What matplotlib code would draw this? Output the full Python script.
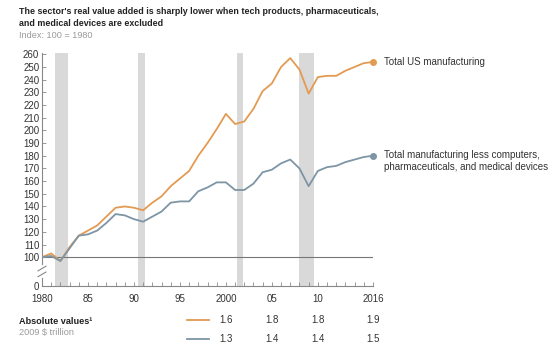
import matplotlib
matplotlib.use('Agg')
import matplotlib.pyplot as plt
import matplotlib.transforms as mtransforms

plt.rcParams['font.family'] = ['Liberation Sans', 'DejaVu Sans']

years = list(range(1980, 2017))
total_us = [100, 103, 97, 108, 117, 121, 125, 132, 139, 140, 139, 137, 143, 148,
            156, 162, 168, 180, 190, 201, 213, 205, 207, 217, 231, 237, 250, 257,
            248, 229, 242, 243, 243, 247, 250, 253, 254]
less_tech = [100, 101, 97, 107, 117, 118, 121, 127, 134, 133, 130, 128, 132, 136,
             143, 144, 144, 152, 155, 159, 159, 153, 153, 158, 167, 169, 174, 177,
             170, 156, 168, 171, 172, 175, 177, 179, 180]
recessions = [(1981.4, 1982.8), (1990.4, 1991.2), (2001.2, 2001.9), (2008.0, 2009.6)]
label_total = 'Total US manufacturing'
label_less = 'Total manufacturing less computers,\npharmaceuticals, and medical devices'
xtick_pos = [1980, 1985, 1990, 1995, 2000, 2005, 2010, 2016]
xtick_lab = ['1980', '85', '90', '95', '2000', '05', '10', '2016']
table_years = [2000, 2005, 2010, 2016]
abs_total = ['1.6', '1.8', '1.8', '1.9']
abs_less = ['1.3', '1.4', '1.4', '1.5']

orange = '#e39a52'
blue = '#7d95a5'
txt = '#333333'
grey = '#9a9a9a'

fig = plt.figure(figsize=(5.5, 3.52), dpi=100)
ax = fig.add_axes([42 / 550, 66 / 352, 331 / 550, 233 / 352])

ybot = 77.3  # pixel position of the "0" label (broken axis)
for a, b in recessions:
    ax.axvspan(a, b, color='#d9d9d9', lw=0, zorder=0)
ax.axhline(100, color='#777777', lw=0.8, zorder=1)
ax.plot(years, total_us, color=orange, lw=1.3, zorder=3)
ax.plot(years, less_tech, color=blue, lw=1.3, zorder=3)
ax.plot(years[-1], total_us[-1], 'o', color=orange, ms=4, zorder=4, clip_on=False)
ax.plot(years[-1], less_tech[-1], 'o', color=blue, ms=4, zorder=4, clip_on=False)

ax.annotate(label_total, (years[-1], total_us[-1]), xytext=(8, 0),
            textcoords='offset points', va='center', ha='left', fontsize=7, color=txt)
ax.annotate(label_less, (years[-1], less_tech[-1]), xytext=(8, -4),
            textcoords='offset points', va='center', ha='left', fontsize=7,
            color=txt, linespacing=1.25)

ax.set_xlim(1980, 2016)
ax.set_ylim(ybot, 261)
for s in ['top', 'right']:
    ax.spines[s].set_visible(False)
ax.spines['left'].set_color('#888888')
ax.spines['bottom'].set_color('#888888')
ax.spines['left'].set_linewidth(0.8)
ax.spines['bottom'].set_linewidth(0.8)

ax.set_yticks(list(range(100, 261, 10)) + [ybot])
ax.set_yticklabels([str(v) for v in range(100, 261, 10)] + ['0'])
ax.set_xticks(xtick_pos)
ax.set_xticklabels(xtick_lab)
ax.set_xticks(years, minor=True)
ax.tick_params(axis='both', direction='in', labelsize=7, colors='#888888',
               labelcolor=txt, length=3, width=0.6)
ax.tick_params(axis='x', which='minor', direction='in', length=3, width=0.6,
               colors='#888888')
ax.tick_params(axis='x', pad=6)
ax.tick_params(axis='y', pad=2)

# axis break marks
ax.plot([0, 0], [0.045, 0.085], transform=ax.transAxes, color='white', lw=2,
        clip_on=False, zorder=5)
for yb in (0.05, 0.075):
    ax.plot([-0.012, 0.012], [yb - 0.01, yb + 0.01], transform=ax.transAxes,
            color='#888888', lw=0.8, clip_on=False, zorder=6)

fig.text(19 / 550, 1 - 12 / 352, "The sector's real value added is sharply lower when tech products, pharmaceuticals,",
         fontsize=6.4, fontweight='bold', color='#222222', va='center')
fig.text(19 / 550, 1 - 24 / 352, 'and medical devices are excluded',
         fontsize=6.4, fontweight='bold', color='#222222', va='center')
fig.text(19 / 550, 1 - 35 / 352, 'Index: 100 = 1980', fontsize=6.6, color=grey, va='center')

fig.text(19 / 550, 1 - 321 / 352, 'Absolute values\u00b9', fontsize=6.6,
         fontweight='bold', color='#222222', va='center')
fig.text(19 / 550, 1 - 332 / 352, '2009 $ trillion', fontsize=6.6, color=grey, va='center')

tr = mtransforms.blended_transform_factory(ax.transData, fig.transFigure)
y1, y2 = 1 - 320 / 352, 1 - 339 / 352
fig.lines.append(plt.Line2D([187 / 550, 209 / 550], [y1, y1], color=orange, lw=1.3,
                            transform=fig.transFigure))
fig.lines.append(plt.Line2D([187 / 550, 209 / 550], [y2, y2], color=blue, lw=1.3,
                            transform=fig.transFigure))
for yr, v1, v2 in zip(table_years, abs_total, abs_less):
    fig.text(yr, y1, v1, transform=tr, fontsize=7, color=txt, ha='center', va='center')
    fig.text(yr, y2, v2, transform=tr, fontsize=7, color=txt, ha='center', va='center')

fig.savefig('out.png', dpi=100)
